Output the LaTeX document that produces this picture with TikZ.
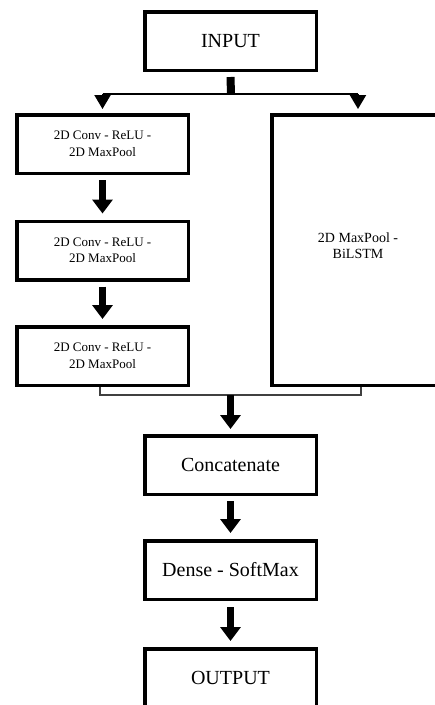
\documentclass[tikz,border=0pt]{standalone}
\usepackage{fontspec}
\setmainfont{Liberation Serif}
\usetikzlibrary{arrows.meta}

\begin{document}
\begin{tikzpicture}[x=1pt,y=-1pt,
  box/.style={draw=black, line width=3.5pt, minimum width=171.5pt, minimum height=58.5pt, align=center, inner sep=2pt, font=\fontsize{20}{24}\selectfont},
  convbox/.style={box, font=\fontsize{13}{16.5}\selectfont},
  bigarrow/.style={line width=7pt, -{Triangle[width=20pt,length=14pt]}},
  smallarrow/.style={line width=2pt, -{Triangle[width=16pt,length=14pt]}},
  bracket/.style={line width=1.3pt, black!75}]
  \useasboundingbox (0,0) rectangle (435,705);
  \clip (0,0) rectangle (435,705);
  % boxes
  \node[box] (input) at (230.5,41) {INPUT};
  \node[convbox] (conv1) at (102.5,144) {2D Conv - ReLU -\\2D MaxPool};
  \node[convbox] (conv2) at (102.5,250.5) {2D Conv - ReLU -\\2D MaxPool};
  \node[convbox] (conv3) at (102.5,356) {2D Conv - ReLU -\\2D MaxPool};
  \node[convbox, minimum width=172pt, minimum height=270.5pt, font=\fontsize{14}{16.5}\selectfont] (bilstm) at (358,250) {2D MaxPool -\\BiLSTM\\[-7.5pt]};
  \node[box] (concat) at (230.5,465) {Concatenate};
  \node[box] (dense) at (230.5,570) {Dense - SoftMax};
  \node[box] (output) at (230.5,678) {OUTPUT};
  \coordinate (split) at (231,94);
  \coordinate (join) at (230.5,395);
  % split to both branches
  \draw[line width=8pt] ([yshift=-5pt]input.south) -- (split);
  \draw[line width=2pt] (conv1.north |- split) -- (bilstm.north |- split);
  \draw[smallarrow] (conv1.north |- split) -- ([yshift=4pt]conv1.north);
  \draw[smallarrow] (bilstm.north |- split) -- ([yshift=4pt]bilstm.north);
  % conv branch
  \draw[bigarrow] ([yshift=-5pt]conv1.south) -- ([yshift=6pt]conv2.north);
  \draw[bigarrow] ([yshift=-5pt]conv2.south) -- ([yshift=6pt]conv3.north);
  % merge
  \draw[bracket] ([xshift=-2.5pt]conv3.south) |- (join) -| ([xshift=3pt]bilstm.south);
  \draw[bigarrow] (join) -- ([yshift=5pt]concat.north);
  \draw[bigarrow] ([yshift=-5pt]concat.south) -- ([yshift=6pt]dense.north);
  \draw[bigarrow] ([yshift=-6pt]dense.south) -- ([yshift=6pt]output.north);
\end{tikzpicture}
\end{document}
